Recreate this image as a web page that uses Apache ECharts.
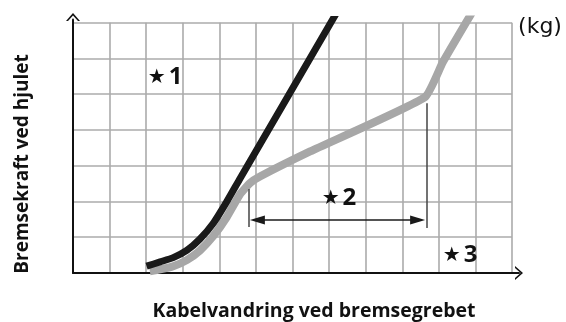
<!DOCTYPE html>
<html>
<head>
<meta charset="utf-8">
<script src="https://cdn.jsdelivr.net/npm/echarts@6/dist/echarts.min.js"></script>
<style>
  html, body { margin: 0; padding: 0; background: #fff; }
  #chart { width: 566px; height: 322px; }
</style>
</head>
<body>
<div id="chart"></div>
<script>
// Cable travel (x, grid units) vs. braking force at the wheel (y, grid units)
const blackCurve = [
  [2.01, 0.19], [2.38, 0.31], [2.74, 0.43], [3.11, 0.63], [3.47, 0.95],
  [3.84, 1.40], [4.20, 1.99], [4.57, 2.65], [7.33, 7.50]
];
const greyCurve = [
  [2.10, 0.05], [2.38, 0.10], [2.74, 0.19], [3.11, 0.36], [3.47, 0.63],
  [3.84, 1.04], [4.20, 1.56], [4.57, 2.21], [4.84, 2.52], [5.11, 2.70],
  [6.48, 3.40], [9.62, 4.92], [10.11, 5.90], [11.03, 7.50]
];

// Dimension line marking the soft-travel range (*2)
const rangeStart = [4.81, 1.29, 2.35];   // x, yBottom, yTop
const rangeEnd = [9.68, 1.26, 4.75];
const rangeArrow = [5.04, 9.42, 1.48];   // xFrom, xTo, y

// Annotation labels: text, x, y
const notes = [
  ['1', 2.52, 5.48],
  ['2', 7.27, 2.10],
  ['3', 10.58, 0.50]
];
const unitText = '(kg)';

const xTitle = 'Kabelvandring ved bremsegrebet';
const yTitle = 'Bremsekraft ved hjulet';

const chevron = 'path://M0,8 L7,0 L14,8 L12,8 L7,2.4 L2,8 Z';
const gridColor = '#ababab';
const font = '"Open Sans", "DejaVu Sans", sans-serif';

const chart = echarts.init(document.getElementById('chart'), null, { renderer: 'canvas' });

const hiddenAxis = {
  axisLine: { show: false }, axisTick: { show: false }, axisLabel: { show: false }
};

chart.setOption({
  animation: false,
  backgroundColor: '#fff',
  grid: [
    { left: 73, right: 54, top: 22.7, bottom: 49 },
    { left: 73, right: 47, top: 19.5, bottom: 49 }
  ],
  xAxis: [
    Object.assign({ gridIndex: 0, type: 'value', min: 0, max: 12, interval: 1,
      splitLine: { show: true, lineStyle: { color: gridColor, width: 1.6 } } }, hiddenAxis),
    { gridIndex: 1, type: 'value', min: 0, max: 12.19,
      axisLine: { show: true, symbol: ['none', chevron], symbolSize: [14, 8], symbolOffset: [0, 0],
        lineStyle: { color: '#111', width: 2 } },
      axisTick: { show: false }, axisLabel: { show: false }, splitLine: { show: false } }
  ],
  yAxis: [
    Object.assign({ gridIndex: 0, type: 'value', min: 0, max: 7, interval: 1,
      splitLine: { show: true, lineStyle: { color: gridColor, width: 1.6 } } }, hiddenAxis),
    { gridIndex: 1, type: 'value', min: 0, max: 7.09,
      axisLine: { show: true, symbol: ['none', chevron], symbolSize: [14, 8], symbolOffset: [0, 2.5],
        lineStyle: { color: '#111', width: 2 } },
      axisTick: { show: false }, axisLabel: { show: false }, splitLine: { show: false } }
  ],
  series: [
    {
      type: 'line', xAxisIndex: 1, yAxisIndex: 1, data: greyCurve,
      showSymbol: false, symbol: 'none', clip: true, z: 3, smooth: 0.15,
      lineStyle: { color: '#a7a7a7', width: 8, cap: 'butt', join: 'round' }
    },
    {
      type: 'line', xAxisIndex: 1, yAxisIndex: 1, data: blackCurve,
      showSymbol: false, symbol: 'none', clip: true, z: 4, smooth: 0.2,
      lineStyle: { color: '#1a1a1a', width: 7, cap: 'butt', join: 'round' }
    },
    {
      type: 'line', xAxisIndex: 1, yAxisIndex: 1, data: [], clip: false, z: 5,
      markLine: {
        silent: true, animation: false,
        label: { show: false },
        emphasis: { disabled: true },
        data: [
          [ { coord: [rangeStart[0], rangeStart[1]], symbol: 'none', lineStyle: { color: '#444', width: 1.5, type: 'solid' } },
            { coord: [rangeStart[0], rangeStart[2]], symbol: 'none' } ],
          [ { coord: [rangeEnd[0], rangeEnd[1]], symbol: 'none', lineStyle: { color: '#444', width: 1.5, type: 'solid' } },
            { coord: [rangeEnd[0], rangeEnd[2]], symbol: 'none' } ],
          [ { coord: [rangeArrow[0], rangeArrow[2]], symbol: 'triangle', symbolSize: [9, 15], lineStyle: { color: '#1a1a1a', width: 1.6, type: 'solid' } },
            { coord: [rangeArrow[1], rangeArrow[2]], symbol: 'triangle', symbolSize: [9, 15] } ]
        ]
      },
      markPoint: {
        silent: true, animation: false,
        symbol: 'circle', symbolSize: 1,
        itemStyle: { color: 'rgba(0,0,0,0)' },
        data: notes.map(n => ({
          coord: [n[1], n[2]],
          label: {
            show: true, position: 'inside',
            formatter: '{s|★}{n|' + n[0] + '}',
            rich: {
              s: { fontFamily: '"DejaVu Sans", sans-serif', fontSize: 20, color: '#111', padding: [2, 3, 0, 0] },
              n: { fontFamily: font, fontWeight: 'bold', fontSize: 24, color: '#111' }
            }
          }
        }))
      }
    }
  ],
  graphic: [
    { type: 'text', x: 23, y: 164, rotation: Math.PI / 2,
      style: { text: yTitle, fontFamily: font, fontWeight: 'bold', fontSize: 19, fill: '#111', align: 'center', verticalAlign: 'middle' }
    },
    { type: 'text', x: 314, y: 311,
      style: { text: xTitle, fontFamily: font, fontWeight: 'bold', fontSize: 19.5, fill: '#111', align: 'center', verticalAlign: 'middle' }
    },
    { type: 'text', x: 540, y: 27,
      style: { text: unitText, fontFamily: '"DejaVu Sans", sans-serif', fontSize: 22, fill: '#111', align: 'center', verticalAlign: 'middle' }
    }
  ]
});
</script>
</body>
</html>
